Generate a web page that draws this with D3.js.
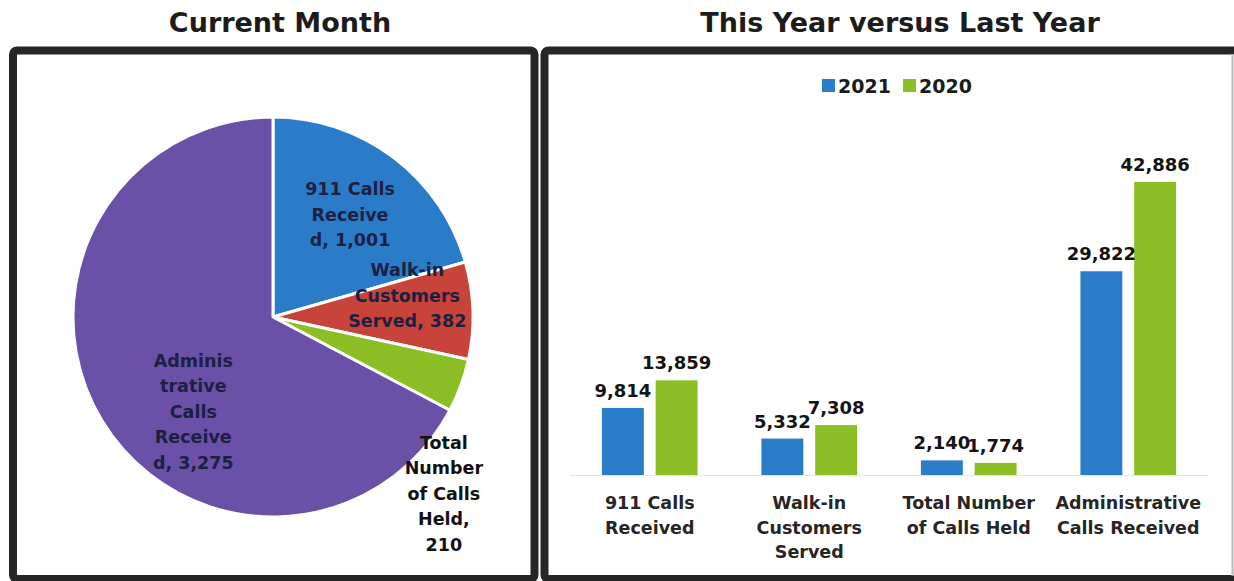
<!DOCTYPE html>
<html>
<head>
<meta charset="utf-8">
<style>
  body { margin: 0; background: #fff; }
  svg text { font-family: "DejaVu Sans", sans-serif; }
</style>
</head>
<body>
<svg id="chart"></svg>
<script src="https://d3js.org/d3.v7.min.js"></script>
<script>
// --- data ---
var pieCats = ["911 Calls Received", "Walk-in Customers Served", "Total Number of Calls Held", "Administrative Calls Received"];
var pieValues = [1001, 382, 210, 3275];
var pieLabels = [
  ["911 Calls", "Receive", "d, 1,001"],
  ["Walk-in", "Customers", "Served, 382"],
  ["Total", "Number", "of Calls", "Held,", "210"],
  ["Adminis", "trative", "Calls", "Receive", "d, 3,275"]
];
var pieColors = ["#2b7cc8", "#c8443a", "#8cbf25", "#6a50a6"];

var barCats = [["911 Calls", "Received"], ["Walk-in", "Customers", "Served"], ["Total Number", "of Calls Held"], ["Administrative", "Calls Received"]];
var seriesNames = ["2021", "2020"];
var values2021 = [9814, 5332, 2140, 29822];
var values2020 = [13859, 7308, 1774, 42886];
var seriesColors = ["#2b7cc8", "#8cbf25"];

var W = 1234, H = 581;
var svg = d3.select("#chart").attr("width", W).attr("height", H);

// panels
svg.append("rect")
  .attr("x", 13).attr("y", 50.5).attr("width", 521.5).attr("height", 528.5)
  .attr("rx", 4).attr("fill", "none").attr("stroke", "#262626").attr("stroke-width", 8);
svg.append("rect")
  .attr("x", 544.5).attr("y", 50.5).attr("width", 700).attr("height", 528.5)
  .attr("rx", 4).attr("fill", "none").attr("stroke", "#262626").attr("stroke-width", 8);
svg.append("rect").attr("x", 1234).attr("y", 0).attr("width", 20).attr("height", H).attr("fill", "#fff");
svg.append("line")
  .attr("x1", 1232.5).attr("x2", 1232.5).attr("y1", 54).attr("y2", 576)
  .attr("stroke", "#bbb").attr("stroke-width", 2);

// titles
svg.append("text").attr("x", 280).attr("y", 32)
  .attr("text-anchor", "middle").attr("font-size", 27).attr("font-weight", "bold")
  .attr("fill", "#1c1c1c").text("Current Month");
svg.append("text").attr("x", 900).attr("y", 32)
  .attr("text-anchor", "middle").attr("font-size", 27).attr("font-weight", "bold")
  .attr("fill", "#1c1c1c").text("This Year versus Last Year");

// ---------- pie ----------
var cx = 273, cy = 317, R = 200;
var pie = d3.pie().sort(null).value(function(d) { return d; });
var arc = d3.arc().innerRadius(0).outerRadius(R);
var arcs = pie(pieValues);
var gPie = svg.append("g").attr("transform", "translate(" + cx + "," + cy + ")");

gPie.selectAll("path").data(arcs).enter().append("path")
  .attr("d", arc)
  .attr("fill", function(d, i) { return pieColors[i]; })
  .attr("stroke", "#fff").attr("stroke-width", 3).attr("stroke-linejoin", "round");

// label anchors (polar, angle from 12 o'clock clockwise)
var labelPolar = [[128, 37], [136, 81], [246, 136], [124, 220]];
var labelColor = ["#1d2040", "#1d2040", "#111", "#1d2040"];
var lineH = 25.5;
arcs.forEach(function(a, i) {
  var ang = labelPolar[i][1] * Math.PI / 180;
  var lx = labelPolar[i][0] * Math.sin(ang);
  var ly = -labelPolar[i][0] * Math.cos(ang);
  var lines = pieLabels[i];
  var t = gPie.append("text")
    .attr("text-anchor", "middle").attr("font-size", 17.5).attr("font-weight", "bold")
    .attr("fill", labelColor[i]);
  lines.forEach(function(s, k) {
    t.append("tspan").attr("x", lx)
      .attr("y", ly + (k - (lines.length - 1) / 2) * lineH + 6)
      .text(s);
  });
});

// ---------- bars ----------
var baseY = 475, topY = 182;
var x0 = d3.scaleBand().domain(d3.range(barCats.length)).range([570, 1208])
  .paddingInner(0.4).paddingOuter(0.2);
var x1 = d3.scaleBand().domain(seriesNames).range([0, x0.bandwidth()]).paddingInner(0.22);
var y = d3.scaleLinear().domain([0, 42886]).range([baseY, topY]);

var barData = [];
barCats.forEach(function(c, i) {
  barData.push({ i: i, s: "2021", v: values2021[i], c: seriesColors[0] });
  barData.push({ i: i, s: "2020", v: values2020[i], c: seriesColors[1] });
});

// baseline
svg.append("line").attr("x1", 570).attr("x2", 1208).attr("y1", baseY + 0.5).attr("y2", baseY + 0.5)
  .attr("stroke", "#e4e4e4").attr("stroke-width", 1);

var gBar = svg.append("g");
gBar.selectAll("rect").data(barData).enter().append("rect")
  .attr("x", function(d) { return x0(d.i) + x1(d.s); })
  .attr("y", function(d) { return y(d.v); })
  .attr("width", x1.bandwidth())
  .attr("height", function(d) { return baseY - y(d.v); })
  .attr("fill", function(d) { return d.c; });

var fmt = d3.format(",");
gBar.selectAll("text.val").data(barData).enter().append("text")
  .attr("class", "val")
  .attr("x", function(d) { return x0(d.i) + x1(d.s) + x1.bandwidth() / 2; })
  .attr("y", function(d) { return y(d.v) - 11; })
  .attr("text-anchor", "middle").attr("font-size", 18).attr("font-weight", "bold")
  .attr("fill", "#141414")
  .text(function(d) { return fmt(d.v); });

// category labels
barCats.forEach(function(lines, i) {
  var t = svg.append("text").attr("text-anchor", "middle")
    .attr("font-size", 17.5).attr("font-weight", "bold").attr("fill", "#262626");
  lines.forEach(function(s, k) {
    t.append("tspan").attr("x", x0(i) + x0.bandwidth() / 2)
      .attr("y", 509 + k * 24.5).text(s);
  });
});

// legend
var legX = [822, 903];
seriesNames.forEach(function(s, i) {
  svg.append("rect").attr("x", legX[i]).attr("y", 79).attr("width", 13).attr("height", 13)
    .attr("fill", seriesColors[i]);
  svg.append("text").attr("x", legX[i] + 16).attr("y", 93)
    .attr("font-size", 19).attr("font-weight", "bold").attr("fill", "#1c1c1c").text(s);
});
</script>
</body>
</html>
